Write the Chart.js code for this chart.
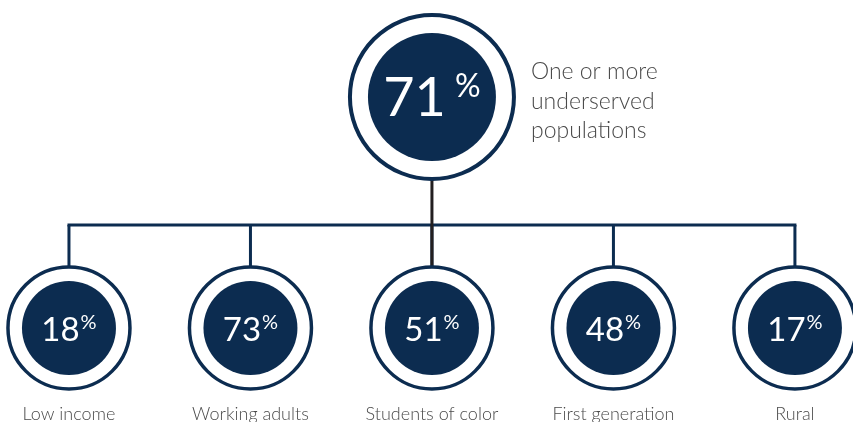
<!DOCTYPE html>
<html>
<head>
<meta charset="utf-8">
<script src="https://cdn.jsdelivr.net/npm/chart.js@4/dist/chart.umd.min.js"></script>
<style>
  html, body { margin: 0; padding: 0; background: #ffffff; }
  #wrap { width: 853px; height: 422px; position: relative; }
</style>
</head>
<body>
<div id="wrap"><canvas id="c" width="853" height="422"></canvas></div>
<script>
// ---- data ----
const categories = ['Low income', 'Working adults', 'Students of color', 'First generation', 'Rural'];
const shares = [18, 73, 51, 48, 17];
const totalShare = 71;
const totalLabel = ['One or more', 'underserved', 'populations'];

// ---- style ----
const NAVY = '#0c2c50';
const STEM = '#231f20';
const GREY = '#4a4a4a';
const FONT = 'Lato, "Open Sans", sans-serif';

// levels of the tree (y axis values)
const LEVEL_BOTTOM = 0;
const LEVEL_TOP = 1;
const LEVEL_BAR = 0.446;
const topIndex = (categories.length - 1) / 2;
const X_RANGE = [-0.38, 4.32];
const Y_RANGE = [-0.407, 1.42];

const bottomPts = categories.map((c, i) => ({ x: i, y: LEVEL_BOTTOM }));
const topPts = [{ x: topIndex, y: LEVEL_TOP }];

const datasets = [];
datasets.push({ data: topPts, pointRadius: 64, pointHoverRadius: 64, pointBackgroundColor: NAVY, pointBorderWidth: 0, order: 1 });
datasets.push({ data: bottomPts, pointRadius: 47, pointHoverRadius: 47, pointBackgroundColor: NAVY, pointBorderWidth: 0, order: 1 });
datasets.push({ data: topPts, pointRadius: 82, pointHoverRadius: 82, pointBackgroundColor: '#ffffff', pointBorderColor: NAVY, pointBorderWidth: 4, order: 2 });
datasets.push({ data: bottomPts, pointRadius: 61, pointHoverRadius: 61, pointBackgroundColor: '#ffffff', pointBorderColor: NAVY, pointBorderWidth: 3.5, order: 2 });
datasets.push({ data: [{ x: topIndex, y: LEVEL_TOP }, { x: topIndex, y: LEVEL_BOTTOM }], showLine: true, borderColor: STEM, borderWidth: 3, pointRadius: 0, order: 3 });
datasets.push({ data: [{ x: 0, y: LEVEL_BAR }, { x: categories.length - 1, y: LEVEL_BAR }], showLine: true, borderColor: NAVY, borderWidth: 3, borderCapStyle: 'square', pointRadius: 0, order: 4 });
categories.forEach((c, i) => {
  datasets.push({ data: [{ x: i, y: LEVEL_BAR }, { x: i, y: LEVEL_BOTTOM }], showLine: true, borderColor: NAVY, borderWidth: 3, pointRadius: 0, order: 4 });
});
datasets.forEach(d => { d.clip = false; });

function drawValue(ctx, cx, cy, value, numSize, pctSize, gap, baseOff) {
  const num = String(value);
  ctx.font = '400 ' + numSize + 'px ' + FONT;
  const wn = ctx.measureText(num).width;
  ctx.font = '400 ' + pctSize + 'px ' + FONT;
  const wp = ctx.measureText('%').width;
  const start = cx - (wn + gap + wp) / 2;
  const base = cy + baseOff;
  ctx.fillStyle = '#ffffff';
  ctx.textAlign = 'left';
  ctx.textBaseline = 'alphabetic';
  ctx.font = '400 ' + numSize + 'px ' + FONT;
  ctx.fillText(num, start, base);
  ctx.font = '400 ' + pctSize + 'px ' + FONT;
  ctx.fillText('%', start + wn + gap, base - 0.36 * numSize);
}

const textPlugin = {
  id: 'treeText',
  afterDatasetsDraw(chart) {
    const { ctx, scales } = chart;
    const xs = scales.x, ys = scales.y;
    ctx.save();
    const tx = xs.getPixelForValue(topIndex), ty = ys.getPixelForValue(LEVEL_TOP);
    drawValue(ctx, tx, ty, totalShare, 54, 32, 9, 19);
    ctx.fillStyle = GREY;
    ctx.font = '300 23px ' + FONT;
    ctx.textAlign = 'left';
    ctx.textBaseline = 'alphabetic';
    totalLabel.forEach((line, k) => ctx.fillText(line, tx + 99, ty - 18 + k * 29.5));
    categories.forEach((c, i) => {
      const bx = xs.getPixelForValue(i), by = ys.getPixelForValue(LEVEL_BOTTOM);
      drawValue(ctx, bx, by, shares[i], 33, 20, 1, 13);
      ctx.fillStyle = GREY;
      ctx.font = '300 18px ' + FONT;
      ctx.textAlign = 'center';
      ctx.textBaseline = 'alphabetic';
      ctx.fillText(c, bx, by + 92);
    });
    ctx.restore();
  }
};

new Chart(document.getElementById('c'), {
  type: 'scatter',
  data: { datasets },
  options: {
    responsive: false,
    animation: false,
    devicePixelRatio: 1,
    layout: { padding: 0, autoPadding: false },
    plugins: { legend: { display: false }, tooltip: { enabled: false } },
    events: [],
    scales: {
      x: { type: 'linear', display: false, min: X_RANGE[0], max: X_RANGE[1] },
      y: { type: 'linear', display: false, min: Y_RANGE[0], max: Y_RANGE[1] }
    }
  },
  plugins: [textPlugin]
});
</script>
</body>
</html>
